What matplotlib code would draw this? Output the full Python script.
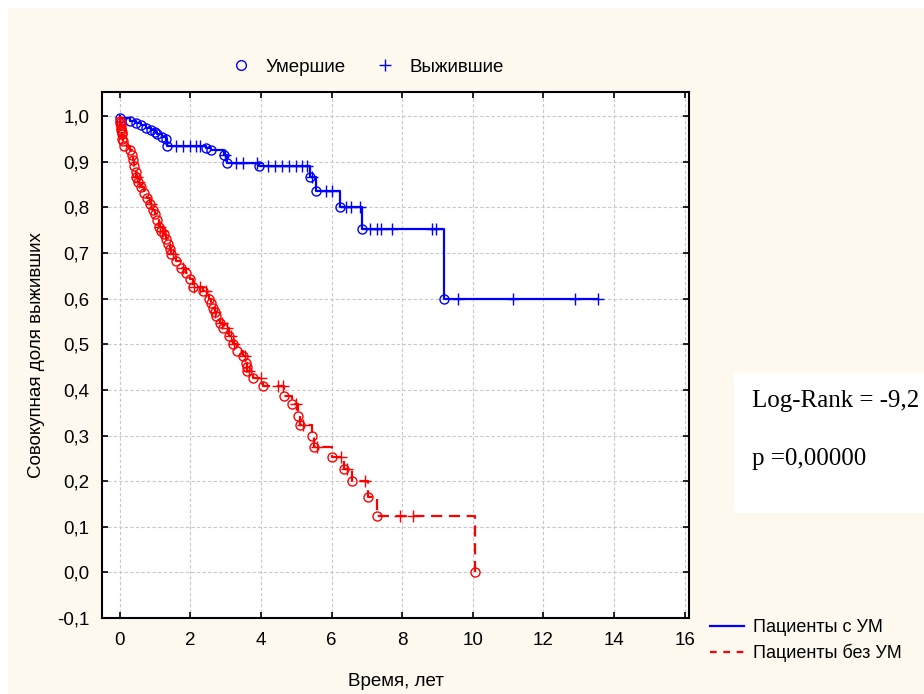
import numpy as np
import matplotlib
matplotlib.use('Agg')
import matplotlib.pyplot as plt
from matplotlib.lines import Line2D
from matplotlib.patches import Rectangle
from matplotlib.ticker import FuncFormatter

plt.rcParams['font.family'] = ['Liberation Sans', 'DejaVu Sans']

# Пациенты с УМ: моменты смерти и доля выживших после события
blue_ev_t = [0.02, 0.3, 0.45, 0.6, 0.75, 0.9, 1.0, 1.05, 1.2, 1.3, 1.35,
             2.45, 2.6, 2.95, 3.05, 3.95, 5.38, 5.57, 6.23, 6.85, 9.18]
blue_ev_s = [0.995, 0.99, 0.985, 0.98, 0.975, 0.97, 0.965, 0.96, 0.955, 0.95, 0.935,
             0.93, 0.925, 0.915, 0.897, 0.89, 0.866, 0.836, 0.80, 0.752, 0.60]
blue_end = 13.55
# выбывшие (цензурированные)
blue_cs_t = [1.6, 1.8, 2.0, 2.15, 2.27, 2.97, 3.3, 3.5, 3.9, 4.2, 4.4, 4.6, 4.8,
             5.0, 5.15, 5.3, 5.45, 5.83, 6.0, 6.4, 6.55, 6.8, 7.1, 7.3, 7.4, 7.7,
             8.83, 8.97, 9.58, 11.14, 12.89, 13.55]
blue_cs_s = [0.935, 0.935, 0.935, 0.935, 0.935, 0.915, 0.897, 0.897, 0.897, 0.89, 0.89, 0.89, 0.89,
             0.89, 0.89, 0.89, 0.866, 0.836, 0.836, 0.80, 0.80, 0.80, 0.752, 0.752, 0.752, 0.752,
             0.752, 0.752, 0.60, 0.60, 0.60, 0.60]

# Пациенты без УМ
red_ev_t = [0.01, 0.02, 0.03, 0.04, 0.05, 0.06, 0.07, 0.08, 0.1, 0.12,
            0.28, 0.35, 0.38, 0.42, 0.45, 0.47, 0.52, 0.61, 0.68, 0.76, 0.85, 0.94,
            0.99, 1.05, 1.11, 1.18, 1.25, 1.31, 1.37, 1.42, 1.46, 1.59, 1.75, 1.87,
            1.98, 2.08, 2.36, 2.53, 2.58, 2.64, 2.69, 2.74, 2.83, 2.93, 3.1, 3.21,
            3.32, 3.49, 3.59, 3.6, 3.61, 3.78, 4.05, 4.66, 4.89, 5.06, 5.1, 5.45,
            5.51, 6.0, 6.35, 6.57, 7.02, 7.3, 10.05]
red_ev_s = [0.99, 0.985, 0.98, 0.975, 0.97, 0.965, 0.96, 0.95, 0.945, 0.935,
            0.925, 0.915, 0.905, 0.89, 0.878, 0.866, 0.856, 0.845, 0.832, 0.82, 0.808, 0.795,
            0.786, 0.772, 0.756, 0.749, 0.742, 0.731, 0.72, 0.709, 0.698, 0.682, 0.668, 0.657,
            0.643, 0.626, 0.616, 0.599, 0.59, 0.58, 0.571, 0.562, 0.547, 0.536, 0.518, 0.50,
            0.485, 0.474, 0.46, 0.45, 0.441, 0.426, 0.409, 0.386, 0.37, 0.343, 0.322, 0.30,
            0.274, 0.252, 0.226, 0.20, 0.165, 0.123, 0.0]
red_cs_t = [0.5, 0.55, 0.9, 1.13, 1.2, 1.5, 1.78, 2.1, 2.27, 2.45, 2.7, 2.9, 3.05,
            3.16, 3.25, 3.54, 3.65, 4.0, 4.48, 4.62, 5.0, 5.2, 5.6, 6.28, 6.45, 6.95,
            7.93, 8.3]
red_cs_s = [0.866, 0.856, 0.808, 0.756, 0.749, 0.698, 0.668, 0.626, 0.626, 0.616, 0.571, 0.547, 0.536,
            0.518, 0.50, 0.474, 0.441, 0.426, 0.409, 0.409, 0.37, 0.322, 0.274, 0.252, 0.226, 0.20,
            0.123, 0.123]

fig = plt.figure(figsize=(9.24, 6.94), dpi=100, facecolor='white')
fig.patches.append(Rectangle((8 / 924, 0), 1, 1 - 8 / 694, transform=fig.transFigure,
                             facecolor='#fdf9ef', edgecolor='none', zorder=-2))
ax = fig.add_axes([102 / 924, 1 - 618 / 694, 587 / 924, 526 / 694])
ax.set_facecolor('white')

# синяя кривая
bx = [0] + blue_ev_t + [blue_end]
by = [1.0] + blue_ev_s + [blue_ev_s[-1]]
ax.step(bx, by, where='post', color='#0000ff', lw=1.6, zorder=3)
ax.plot(blue_ev_t, blue_ev_s, 'o', mfc='none', mec='#0000ff', ms=6.5, mew=1, zorder=4)
ax.plot(blue_cs_t, blue_cs_s, '+', color='#0000ff', ms=9, mew=1, zorder=4)

# красная кривая
rx = [0] + red_ev_t
ry = [1.0] + red_ev_s
ax.step(rx, ry, where='post', color='#ff0000', lw=1.6, ls=(0, (5, 3)), zorder=5)
ax.plot(red_ev_t, red_ev_s, 'o', mfc='none', mec='#ff0000', ms=6.5, mew=1, zorder=6)
ax.plot(red_cs_t, red_cs_s, '+', color='#ff0000', ms=9, mew=1, zorder=6)

ax.set_xlim(-0.5, 16.12)
ax.set_ylim(-0.1, 1.053)
ax.set_xticks(np.arange(0, 17, 2))
ax.set_yticks(np.arange(-0.1, 1.01, 0.1))
ax.yaxis.set_major_formatter(FuncFormatter(lambda v, p: ('%.1f' % v).replace('.', ',').replace('-0,0', '0,0')))
ax.tick_params(direction='in', length=4, width=1.2, labelsize=13.5, top=True, right=True)
ax.tick_params(axis='x', pad=10)
ax.tick_params(axis='y', pad=9)
ax.grid(True, color='#c8c8c8', ls=(0, (3, 2)), lw=0.8)
for s in ax.spines.values():
    s.set_linewidth(1.5)
ax.set_xlabel('Время, лет', fontsize=13.5, labelpad=17)
ax.set_ylabel('Совокупная доля выживших', fontsize=13.5, labelpad=9)

# легенда маркеров сверху
h1 = [Line2D([], [], ls='none', marker='o', mfc='none', mec='#0000ff', ms=7),
      Line2D([], [], ls='none', marker='+', color='#0000ff', ms=9)]
fig.legend(h1, ['Умершие', 'Выжившие'], loc='center', bbox_to_anchor=(368 / 924, 1 - 67 / 694),
           ncol=2, frameon=False, fontsize=13.5, handlelength=1.0, columnspacing=1.6)

# легенда групп снизу
h2 = [Line2D([], [], color='#0000ff', lw=1.6),
      Line2D([], [], color='#ff0000', lw=1.6, ls=(0, (3, 3)))]
fig.legend(h2, ['Пациенты с УМ', 'Пациенты без УМ'], loc='upper left',
           bbox_to_anchor=(710 / 924, 1 - 619 / 694), frameon=False, fontsize=13,
           handlelength=1.9, labelspacing=0.45, borderpad=0, borderaxespad=0, handletextpad=0.5)

# блок Log-Rank
fig.patches.append(Rectangle((734 / 924, 1 - 513 / 694), 0.3, 140 / 694, transform=fig.transFigure,
                             facecolor='white', edgecolor='none', zorder=1))
fig.text(752 / 924, 1 - 401 / 694, 'Log-Rank = -9,2', family='Liberation Serif', fontsize=18, va='center')
fig.text(752 / 924, 1 - 459 / 694, 'p =0,00000', family='Liberation Serif', fontsize=18, va='center')

fig.savefig('out.png', dpi=100, facecolor=fig.get_facecolor())
